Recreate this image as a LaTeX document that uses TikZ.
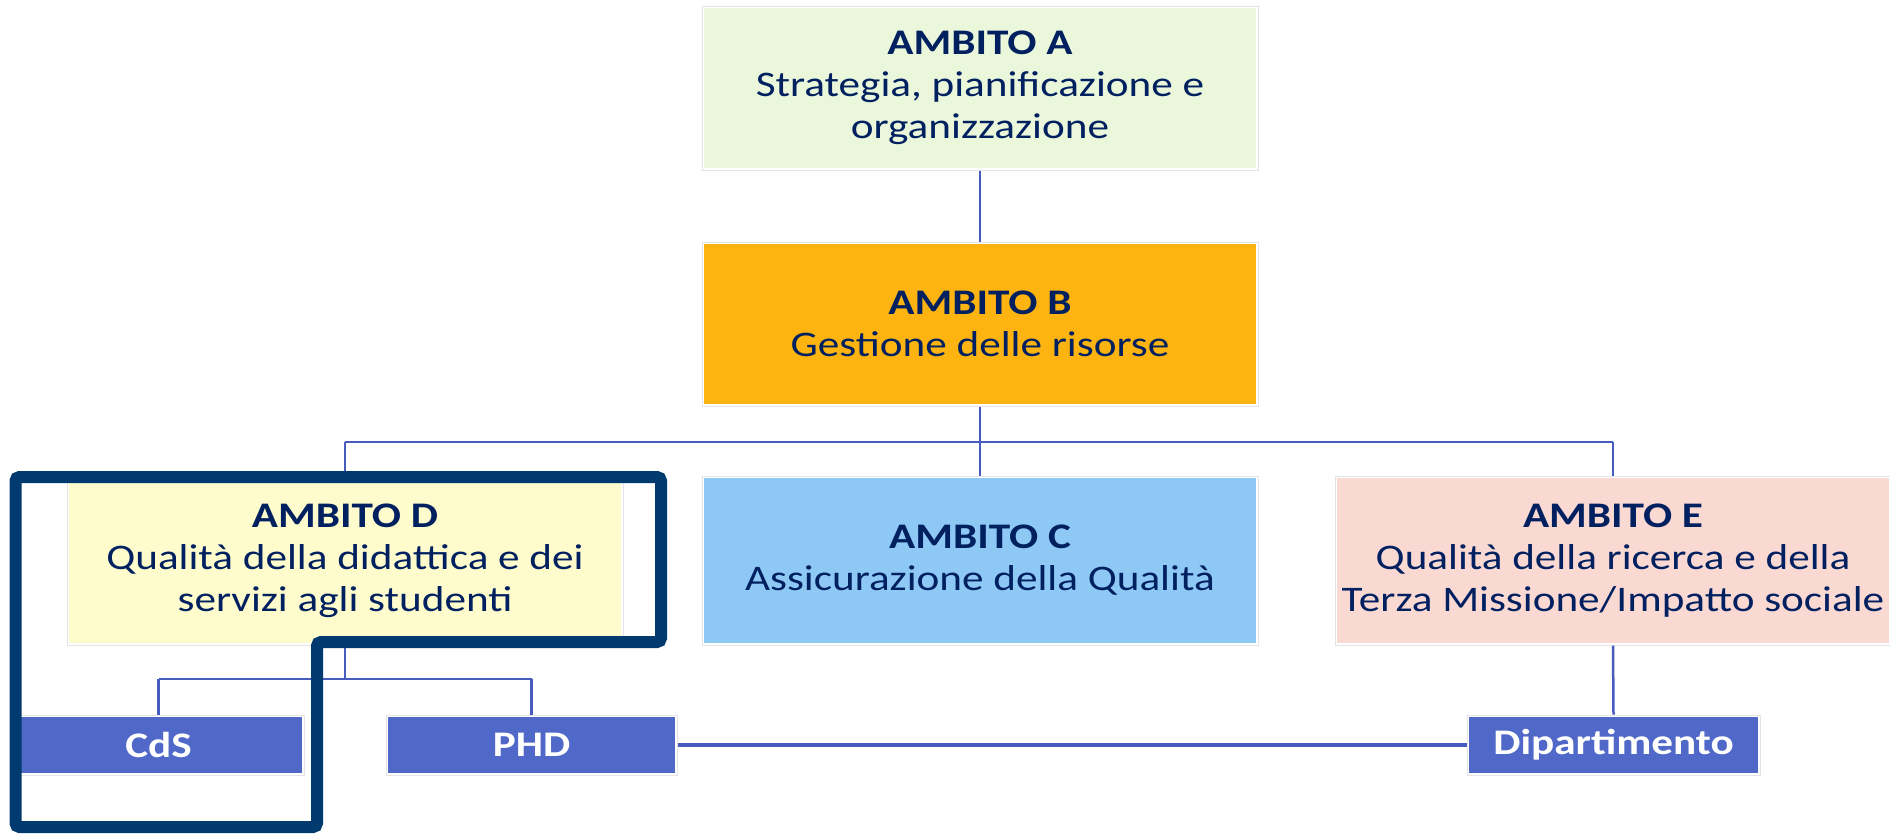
\documentclass[tikz,border=0pt]{standalone}
\usepackage{fontspec}
\setmainfont{Carlito}[FakeStretch=1.2]
\definecolor{txt}{RGB}{0,32,96}
\definecolor{cA}{RGB}{235,247,219}
\definecolor{cB}{RGB}{253,180,16}
\definecolor{cC}{RGB}{142,200,245}
\definecolor{cD}{RGB}{254,252,204}
\definecolor{cE}{RGB}{250,217,211}
\definecolor{cSmall}{RGB}{80,104,200}
\definecolor{conn}{RGB}{72,92,192}
\definecolor{frame}{RGB}{0,58,110}
\definecolor{boxgray}{RGB}{228,228,228}
\tikzset{
  ambox/.style={draw=boxgray, line width=1pt, fill=white, inner sep=0pt,
    minimum width=556pt, align=center, text=txt,
    font=\fontsize{36}{42}\selectfont,
    path picture={\fill[#1] ([shift={(2pt,-2pt)}]path picture bounding box.north west)
      rectangle ([shift={(-2pt,2pt)}]path picture bounding box.south east);}},
  smallbox/.style={draw=boxgray, line width=1pt, fill=white, inner sep=0pt,
    minimum width=291pt, minimum height=60pt, text=white,
    font=\fontsize{36}{42}\selectfont\bfseries,
    path picture={\fill[cSmall] ([shift={(2pt,-2pt)}]path picture bounding box.north west)
      rectangle ([shift={(-2pt,2pt)}]path picture bounding box.south east);}},
  link/.style={draw=conn, line width=2.5pt},
  thicklink/.style={draw=conn, line width=3.5pt},
  hl/.style={draw=frame, line width=12pt, rounded corners=4pt}
}
\begin{document}
\begin{tikzpicture}[x=1pt,y=-1pt]
\useasboundingbox[fill=white] (0,0) rectangle (1890,833);
\coordinate (bus) at (980,442);
\coordinate (busD) at (345,442);
\coordinate (busE) at (1613,442);
\coordinate (subD) at (345,679);
\coordinate (subC) at (158.5,679);
\coordinate (subP) at (531.5,679);

\node[ambox=cA, minimum height=164pt] (A) at (980,88)
  {\textbf{AMBITO A}\\Strategia, pianificazione e\\organizzazione};
\node[ambox=cB, minimum height=164pt] (B) at (980,324)
  {\textbf{AMBITO B}\\Gestione delle risorse};
\node[ambox=cC, minimum height=169pt] (C) at (980,560.5)
  {\textbf{AMBITO C}\\Assicurazione della Qualità};
\node[ambox=cD, minimum height=169pt] (D) at (345,560.5)
  {\textbf{AMBITO D}\\Qualità della didattica e dei\\servizi agli studenti};
\node[ambox=cE, minimum height=169pt] (E) at (1613,560.5)
  {\textbf{AMBITO E}\\Qualità della ricerca e della\\Terza Missione/Impatto sociale};
\node[smallbox] (CdS) at (158.5,745) {CdS};
\node[smallbox] (PHD) at (531.5,745) {PHD};
\node[smallbox, minimum width=293pt] (Dip) at (1613.5,745) {Dipartimento};

\draw[link] (A.south) -- (B.north);
\draw[link] (B.south) -- (bus);
\draw[link] (busD) -- (busE);
\draw[link] (bus) -- (C.north);
\draw[link] (busD) -- (D.north);
\draw[link] (busE) -- (E.north);
\draw[link] (D.south) -- (subD);
\draw[link] (subC) -- (subP);
\draw[link] (subC) -- (CdS.north);
\draw[link] (subP) -- (PHD.north);
\draw[link] (E.south) -- (Dip.north);
\draw[thicklink] (PHD.east) -- (Dip.west);

\draw[hl] (15.5,477) -- (661,477) -- (661,642) -- (317,642) -- (317,827) -- (15.5,827) -- cycle;
\end{tikzpicture}
\end{document}
